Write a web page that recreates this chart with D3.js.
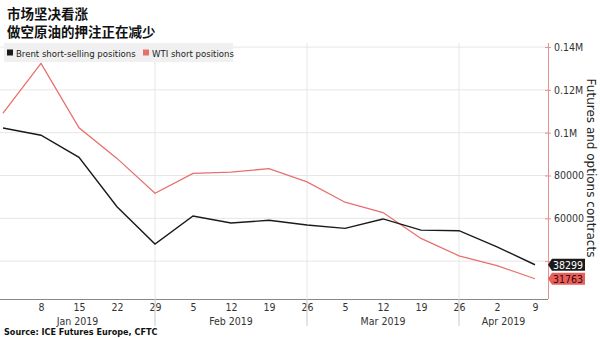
<!DOCTYPE html>
<html><head><meta charset="utf-8">
<script src="https://cdn.jsdelivr.net/npm/d3@7"></script>
<style>
body{margin:0;background:#fff;}
svg text{font-family:"DejaVu Sans Condensed","DejaVu Sans",sans-serif;font-stretch:condensed;}
</style></head>
<body><svg id="c" width="600" height="338"></svg>
<script>
const titleLines = ["市场坚决看涨", "做空原油的押注正在减少"];
const dates = ["2019-01-01","2019-01-08","2019-01-15","2019-01-22","2019-01-29","2019-02-05","2019-02-12","2019-02-19","2019-02-26","2019-03-05","2019-03-12","2019-03-19","2019-03-26","2019-04-02","2019-04-09"];
const brent = [102200, 98800, 88500, 65400, 48000, 61100, 57800, 59100, 56900, 55300, 59700, 54500, 54200, 46700, 38299];
const wti = [109100, 132400, 102300, 88000, 71700, 81000, 81600, 83200, 77000, 67500, 62700, 50600, 42500, 37900, 31763];
const seriesNames = ["Brent short-selling positions", "WTI short positions"];
const tickDates = dates.slice(1);
const tickLabels = ["8","15","22","29","5","12","19","26","5","12","19","26","2","9"];
const monthLabels = ["Jan 2019","Feb 2019","Mar 2019","Apr 2019"];
const monthSeparators = ["2019-01-29","2019-02-26","2019-03-26"];
const yTicks = [140000, 120000, 100000, 80000, 60000, 40000];
const yTickLabels = ["0.14M","0.12M","0.1M","80000","60000",""];
const yTitle = "Futures and options contracts";
const source = "Source: ICE Futures Europe, CFTC";

const colors = ["#1a1a1a", "#e8706c"];
const svg = d3.select("#c");
const parse = d3.utcParse("%Y-%m-%d");
const pLeft = 0, pRight = 548, pTop = 43, pBottom = 299;
const x = d3.scaleUtc().domain([parse(dates[0]), parse(dates[dates.length-1])]).range([3, 535]);
const y = d3.scaleLinear().domain([22300, 141900]).range([pBottom, pTop]);

// title
svg.selectAll("text.title").data(titleLines).join("text")
  .attr("x", 7).attr("y", (d,i)=>18.5 + i*18.5)
  .style("font-family", "'Noto Sans CJK SC',sans-serif").style("font-weight", "bold").style("font-size", "13.5px").attr("fill", "#111")
  .text(d=>d);

// gridlines
svg.append("g").selectAll("line").data(yTicks).join("line")
  .attr("x1", pLeft).attr("x2", pRight).attr("y1", d=>y(d)).attr("y2", d=>y(d))
  .attr("stroke", "#e6e6e6").attr("stroke-width", 1);
svg.append("g").selectAll("line").data(monthSeparators).join("line")
  .attr("x1", d=>x(parse(d))).attr("x2", d=>x(parse(d))).attr("y1", pTop).attr("y2", pBottom)
  .attr("stroke", "#e6e6e6").attr("stroke-width", 1);

// legend
const lg = svg.append("g");
lg.append("rect").attr("x", 4).attr("y", 43).attr("width", 229).attr("height", 19).attr("fill", "#f0f0f0");
const legendX = [7, 143];
seriesNames.forEach((n,i)=>{
  lg.append("rect").attr("x", legendX[i]).attr("y", 49.5).attr("width", 6).attr("height", 6).attr("fill", colors[i]);
  lg.append("text").attr("x", legendX[i]+9).attr("y", 57).style("font-size", "9.5px").attr("fill", "#222").text(n);
});

// lines
const line = d3.line().x((d,i)=>x(parse(dates[i]))).y(d=>y(d));
svg.append("path").datum(wti).attr("d", line).attr("fill", "none").attr("stroke", colors[1]).attr("stroke-width", 1.3);
svg.append("path").datum(brent).attr("d", line).attr("fill", "none").attr("stroke", colors[0]).attr("stroke-width", 1.4);

// bottom axis
const xa = svg.append("g").attr("transform", `translate(0,${pBottom})`)
  .call(d3.axisBottom(x).tickValues(tickDates.map(parse)).tickFormat((d,i)=>tickLabels[i]).tickSize(0).tickPadding(5));
xa.select(".domain").remove();
xa.selectAll("text").style("font-size", "10.5px").attr("fill", "#333").style("font-family", "'DejaVu Sans Condensed','DejaVu Sans',sans-serif");
svg.append("line").attr("x1", 0).attr("x2", pRight).attr("y1", pBottom+0.5).attr("y2", pBottom+0.5).attr("stroke", "#888");
svg.append("g").selectAll("line").data(monthSeparators).join("line")
  .attr("x1", d=>x(parse(d))).attr("x2", d=>x(parse(d))).attr("y1", pBottom).attr("y2", 326)
  .attr("stroke", "#c8c8c8").attr("stroke-width", 1);
const bounds = [0, ...monthSeparators.map(d=>x(parse(d))), pRight];
svg.append("g").selectAll("text").data(monthLabels).join("text")
  .attr("x", (d,i)=>(bounds[i]+bounds[i+1])/2).attr("y", 325).attr("text-anchor", "middle")
  .style("font-size", "10.5px").attr("fill", "#333").text(d=>d);

// right axis
const ya = svg.append("g").attr("transform", `translate(${pRight},0)`)
  .call(d3.axisRight(y).tickValues(yTicks).tickFormat((d,i)=>yTickLabels[i]).tickSize(3).tickPadding(3));
ya.select(".domain").attr("d", `M0.5,${pTop}V${pBottom}`).attr("stroke", "#e8908d");
ya.selectAll(".tick line").attr("stroke", "#e8908d").attr("x1", -3);
ya.selectAll("text").style("font-size", "10.5px").attr("fill", "#333").style("font-family", "'DejaVu Sans Condensed','DejaVu Sans',sans-serif");

// y title
svg.append("text").attr("transform", `translate(587,168) rotate(90)`).attr("text-anchor", "middle")
  .style("font-size", "12px").attr("fill", "#222").style("font-family", "'DejaVu Sans',sans-serif").style("font-stretch", "normal").text(yTitle);

// end labels
const ends = [{v: brent[brent.length-1], c: colors[0], t: "#fff"}, {v: wti[wti.length-1], c: "#e8605c", t: "#3a0606"}];
ends.forEach(e=>{
  const yc = y(e.v);
  svg.append("path").attr("d", `M${pRight},${yc} L${pRight+4},${yc-6} L${pRight+37},${yc-6} L${pRight+37},${yc+6} L${pRight+4},${yc+6} Z`).attr("fill", e.c);
  svg.append("text").attr("x", pRight+5).attr("y", yc+4).style("font-size", "10.5px").attr("fill", e.t).text(d3.format("d")(e.v));
});

// source
svg.append("text").attr("x", 4).attr("y", 335).style("font-size", "9px").style("font-weight", "bold").attr("fill", "#111").text(source);
</script></body></html>
